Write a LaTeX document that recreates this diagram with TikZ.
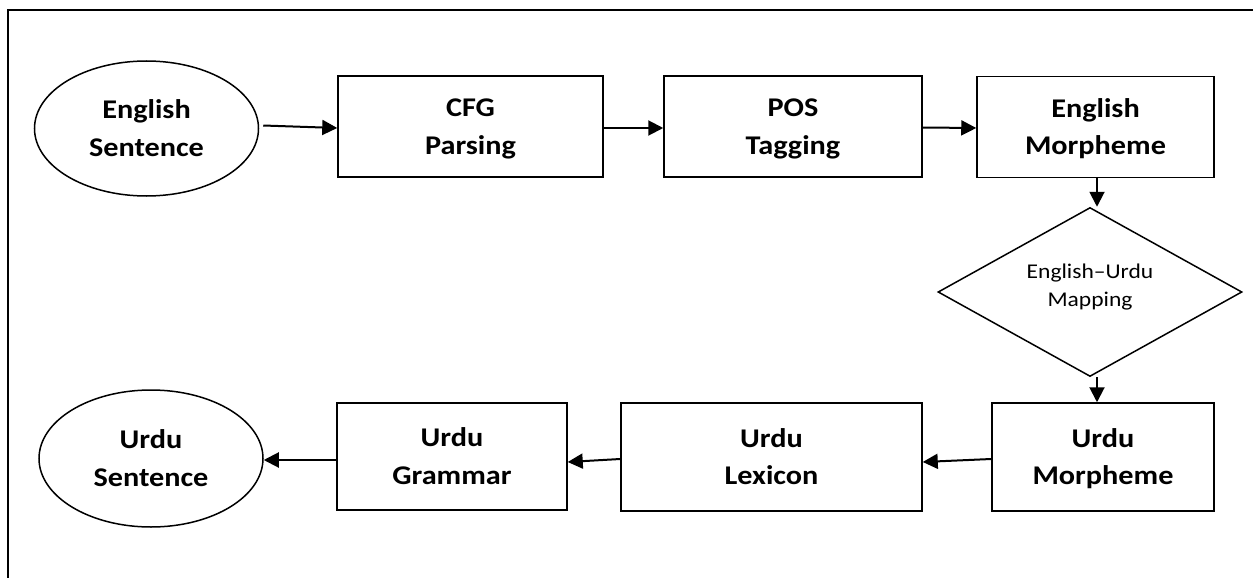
\documentclass[tikz,border=0pt]{standalone}
\usepackage{fontspec}
\setmainfont{Carlito}
\newfontfamily\boxfont{Carlito}[FakeStretch=1.12]
\usetikzlibrary{shapes.geometric,arrows.meta,calc}
\tikzset{
  boldtext/.style={inner sep=0pt, align=center, text height=60pt, text depth=5pt,
    font=\boxfont\fontsize{27}{37.5}\selectfont\bfseries},
  box/.style={draw, line width=1.5pt, rectangle, boldtext},
  oval/.style={draw, line width=1.5pt, ellipse, boldtext},
  decision/.style={draw, line width=1.5pt, diamond, inner sep=0pt, align=center,
    text height=34.4pt, text depth=5pt,
    font=\boxfont\fontsize{21}{28.7}\selectfont},
  flow/.style={line width=2pt, -{Triangle[length=15pt,width=15pt]}},
  frame/.style={line width=2pt}
}
\begin{document}
\begin{tikzpicture}[x=1pt,y=-1pt]
\useasboundingbox (0,0) rectangle (1253,578);
\draw[frame] (8,578) -- (8,10.5) -- (1253,10.5);

\node[oval, minimum width=224pt, minimum height=135pt] (es) at (146.5,128.5) {English\\Sentence};
\node[box, minimum width=265pt, minimum height=101pt] (cfg) at (470.5,126.5) {CFG\\Parsing};
\node[box, minimum width=258pt, minimum height=101pt] (pos) at (793,126.5) {POS\\Tagging};
\node[box, minimum width=237pt, minimum height=101pt] (em) at (1095.5,127) {English\\Morpheme};
\node[decision, minimum width=304pt, minimum height=169pt] (dm) at (1090,292) {English–Urdu\\Mapping};
\node[box, minimum width=222pt, minimum height=108pt] (um) at (1103,457) {Urdu\\Morpheme};
\node[box, minimum width=301pt, minimum height=108pt] (lex) at (771.5,457) {Urdu\\Lexicon};
\node[box, minimum width=230pt, minimum height=107pt] (gr) at (452,456.5) {Urdu\\Grammar};
\node[oval, minimum width=224pt, minimum height=137pt] (us) at (151,458.5) {Urdu\\Sentence};

\draw[flow] ($(es.east)+(4,-3)$) -- ($(cfg.west)+(0,1.5)$);
\draw[flow] ($(cfg.east)+(0,1.5)$) -- ($(pos.west)+(0,1.5)$);
\draw[flow] ($(pos.east)+(0,1)$) -- ($(em.west)+(0,1)$);
\draw[flow] ($(em.south)+(1.5,0)$) coordinate (a1) -- (a1 |- dm.north);
\draw[flow] ($(dm.south)+(7,0)$) coordinate (a2) -- (a2 |- um.north);
\draw[flow] ($(um.west)+(0,2)$) -- ($(lex.east)+(0,5)$);
\draw[flow] ($(lex.west)+(0,2)$) -- ($(gr.east)+(0,5.5)$);
\draw[flow] ($(gr.west)+(0,3.5)$) -- ($(us.east)+(0,1.5)$);
\end{tikzpicture}
\end{document}
